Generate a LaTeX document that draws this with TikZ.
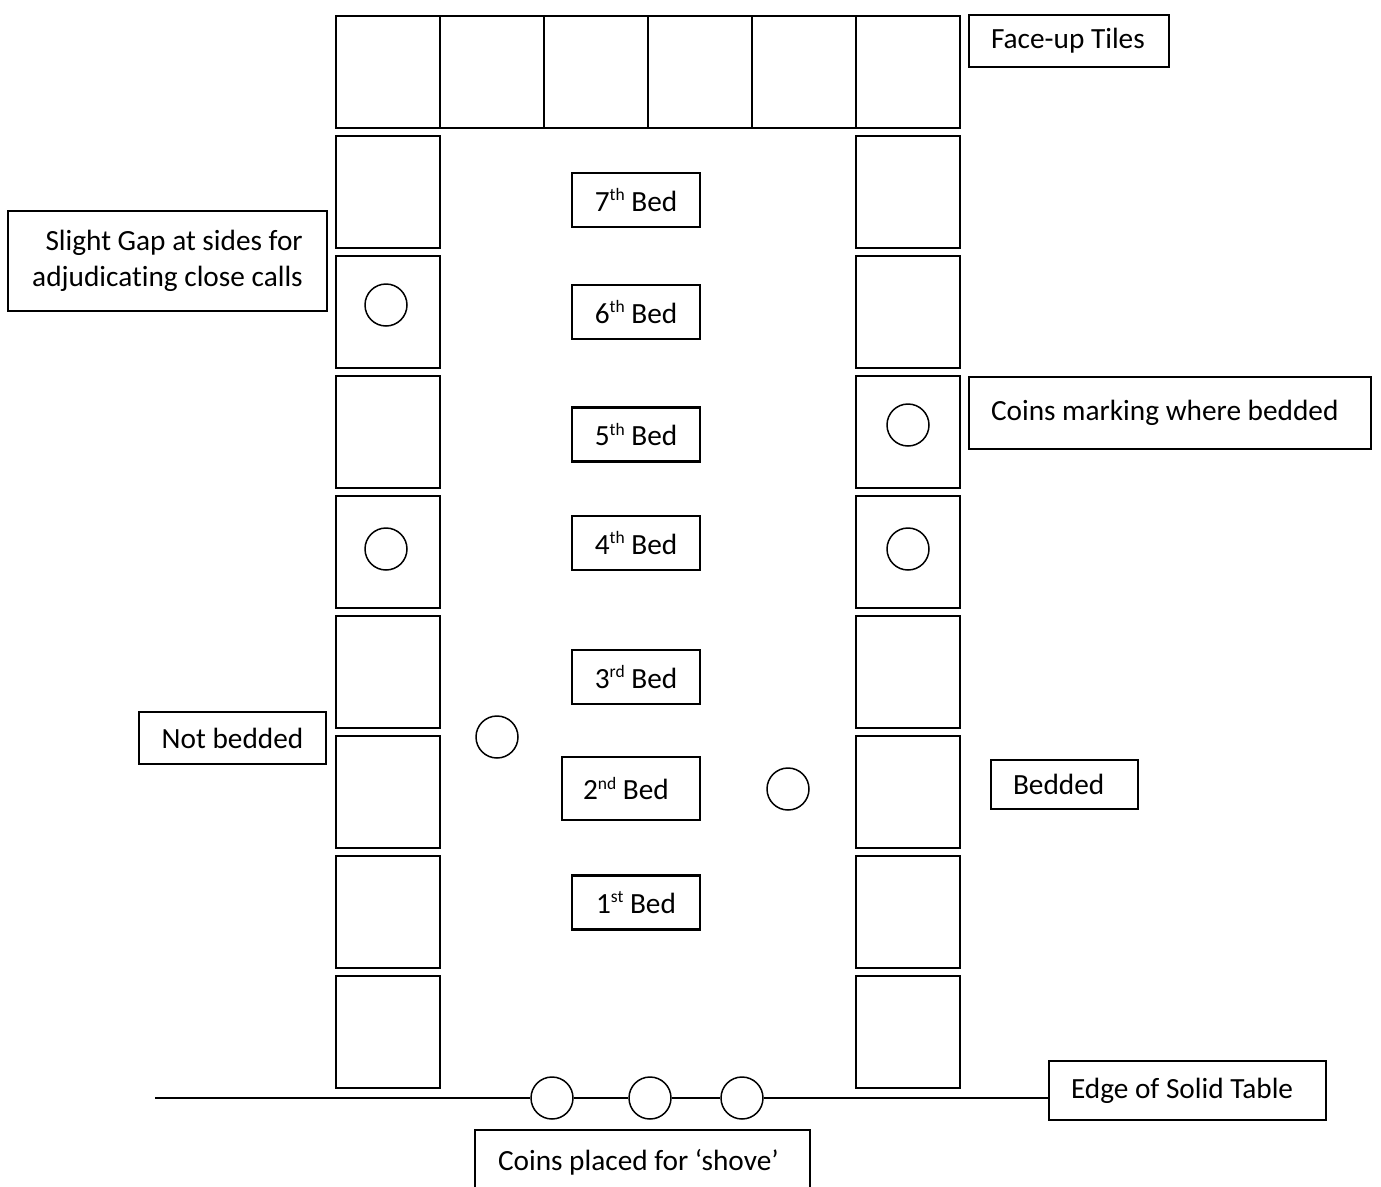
\documentclass[tikz,border=0pt]{standalone}
\usepackage{fontspec}
\setmainfont{Carlito}[RawFeature=-liga]
\newcommand\supx[1]{\raisebox{0.36em}{\fontsize{17.5}{17.5}\selectfont #1}}
\begin{document}
\begin{tikzpicture}[x=1pt,y=-1pt,
  tile/.style={draw, line width=1.6pt, minimum width=104pt, minimum height=112pt, inner sep=0pt, anchor=north west},
  toptile/.style={draw, line width=1.6pt, minimum width=104pt, minimum height=112pt, inner sep=0pt, anchor=north west},
  coin/.style={draw, circle, line width=1.5pt, minimum size=42pt, inner sep=0pt},
  lbl/.style={draw, line width=2.2pt, inner ysep=0pt, font=\fontsize{29.3}{35.5}\selectfont},
  bedbox/.style={lbl, minimum width=128pt, minimum height=54pt, inner xsep=0pt, align=flush center}
]
\useasboundingbox (0,0) rectangle (1381,1186);
\fill[white] (0,0) rectangle (1381,1186);

% top row of face-up tiles
\foreach \i in {0,...,5}
  \node[toptile] (top\i) at ({335+104*\i},15) {};

% side tiles
\foreach \k in {1,...,8}{
  \node[tile] (L\k) at (335,{135+120*(\k-1)}) {};
  \node[tile] (R\k) at (855,{135+120*(\k-1)}) {};
}

% bed labels
\node[bedbox] (b7) at (636,200) {7\supx{th} Bed};
\node[bedbox] (b6) at (636,312) {6\supx{th} Bed};
\node[bedbox] (b5) at (636,434.5) {5\supx{th} Bed};
\node[bedbox] (b4) at (636,543) {4\supx{th} Bed};
\node[bedbox] (b3) at (636,677) {3\supx{rd} Bed};
\node[lbl, minimum width=138pt, minimum height=63pt, inner xsep=21pt, text width=96pt, align=flush left] (b2) at (631,788.5) {2\supx{nd} Bed};
\node[bedbox] (b1) at (636,902.5) {1\supx{st} Bed};

% coins in tiles
\node[coin] (cL2) at (386,305) {};
\node[coin] (cL4) at (386,549) {};
\node[coin] (cR3) at (908,425) {};
\node[coin] (cR4) at (908,549) {};
\node[coin] (cnb) at (497,737) {};
\node[coin] (cb) at (788,789) {};

% annotation boxes
\node[lbl, minimum width=200pt, minimum height=52pt, inner xsep=22pt, text width=156pt, align=flush left] (faceup) at (1069,41) {Face-up Tiles};
\node[lbl, minimum width=319pt, minimum height=100pt, inner xsep=0pt, align=flush right] (gap) at (167.5,261) {Slight Gap at sides for\\adjudicating close calls};
\node[lbl, minimum width=402pt, minimum height=72pt, inner xsep=22pt, text width=358pt, align=flush left] (marking) at (1170,413) {Coins marking where bedded};
\node[lbl, minimum width=187pt, minimum height=52pt, inner xsep=0pt, text width=187pt, align=flush center] (notbed) at (232.5,738) {Not bedded};
\node[lbl, minimum width=147pt, minimum height=49pt, inner xsep=22pt, text width=103pt, align=flush left] (bedded) at (1064.5,784.5) {Bedded};
\node[lbl, minimum width=277pt, minimum height=59pt, inner xsep=22pt, text width=233pt, align=flush left] (edge) at (1187.5,1090.5) {Edge of Solid Table};
\node[lbl, minimum width=335pt, minimum height=64pt, inner xsep=23pt, text width=289pt, align=flush left] (shove) at (642.5,1162) {Coins placed for ‘shove’};

% table edge with coins
\node[coin] (s1) at (552,1098) {};
\node[coin] (s2) at (650,1098) {};
\node[coin] (s3) at (742,1098) {};
\coordinate (tl) at (155,1098);
\draw[line width=1.6pt] (tl) -- (s1.west);
\draw[line width=1.6pt] (s1.east) -- (s2.west);
\draw[line width=1.6pt] (s2.east) -- (s3.west);
\draw[line width=1.6pt] (s3.east) -- (s3.east -| edge.west);
\end{tikzpicture}
\end{document}
